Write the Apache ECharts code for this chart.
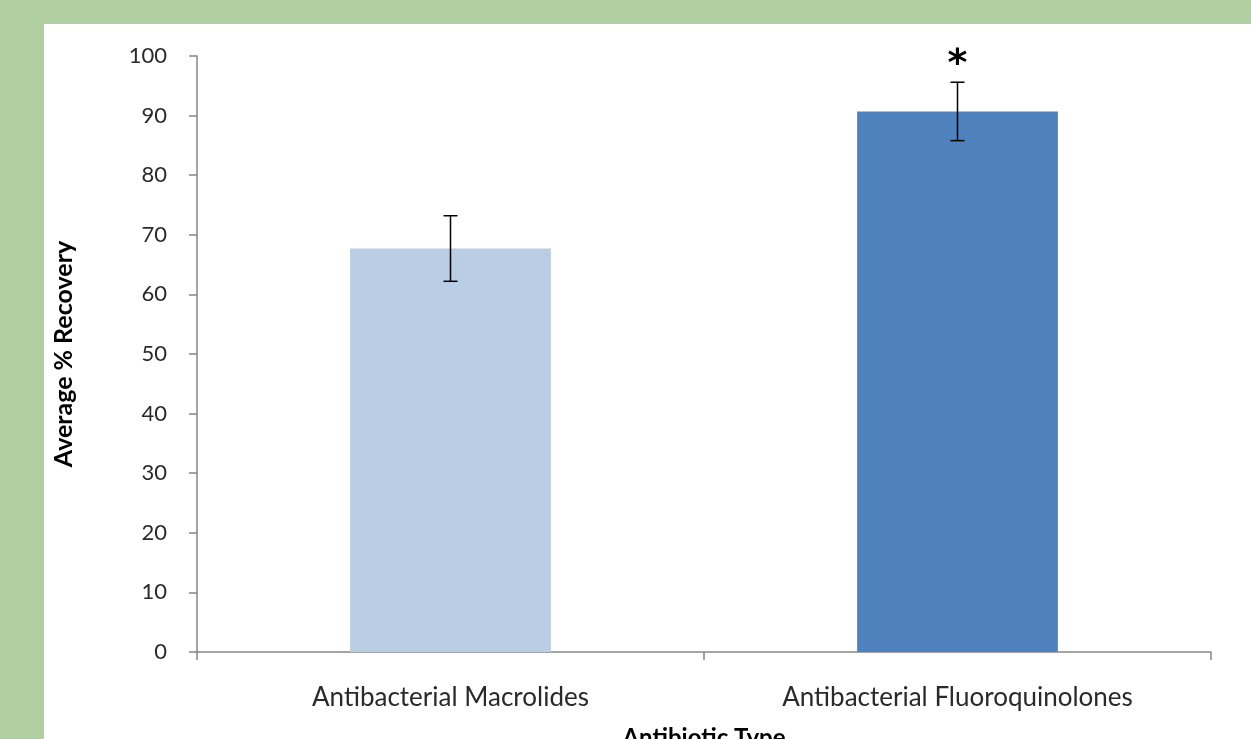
<!DOCTYPE html>
<html><head><meta charset="utf-8">
<script src="https://cdn.jsdelivr.net/npm/echarts@6/dist/echarts.min.js"></script>
<style>
html,body{margin:0;padding:0;background:#b0cfa0;width:1251px;height:739px;overflow:hidden;}
#c{position:absolute;left:44px;top:24px;width:1207px;height:715px;background:#fff;}
</style></head><body>
<div id="c"></div>
<script>
const categories = ['Antibacterial Macrolides', 'Antibacterial Fluoroquinolones'];
const meanRecovery = [67.7, 90.7];
const errorAmount = [5.5, 4.9];
const significance = ['', '*'];
const barColors = ['#b9cde5', '#4f81bd'];
const yTicks = [0, 10, 20, 30, 40, 50, 60, 70, 80, 90, 100];

const chart = echarts.init(document.getElementById('c'));
const font = 'Lato, "Open Sans", sans-serif';
chart.setOption({
  animation: false,
  grid: {left: 153, right: 40, top: 32, bottom: 87, containLabel: false, outerBoundsMode: 'none'},
  xAxis: {
    type: 'category', data: categories,
    name: 'Antibiotic Type', nameLocation: 'middle', nameGap: 74,
    nameTextStyle: {fontFamily: font, fontWeight: 'bold', fontSize: 24, color: '#000'},
    axisLine: {lineStyle: {color: '#868686', width: 1.5}},
    axisTick: {show: true, length: 8, lineStyle: {color: '#868686', width: 1.5}},
    axisLabel: {fontFamily: font, fontSize: 26, color: '#2a2a2a', margin: 33}
  },
  yAxis: {
    type: 'value', min: yTicks[0], max: yTicks[yTicks.length - 1], interval: 10,
    name: 'Average % Recovery', nameLocation: 'middle', nameGap: 121, nameRotate: 90,
    nameTextStyle: {fontFamily: font, fontWeight: 'bold', fontSize: 25, color: '#000'},
    axisLine: {show: true, lineStyle: {color: '#868686', width: 1.5}},
    axisTick: {show: true, length: 8, lineStyle: {color: '#868686', width: 1.5}},
    splitLine: {show: false},
    axisLabel: {fontFamily: font, fontSize: 22, color: '#2a2a2a', margin: 30}
  },
  series: [
    {
      type: 'bar', barWidth: '39.6%',
      data: meanRecovery.map((v, i) => ({value: v, itemStyle: {color: barColors[i]}}))
    },
    {
      type: 'custom',
      data: meanRecovery.map((v, i) => [i, v - errorAmount[i], v + errorAmount[i]]),
      renderItem: function (params, api) {
        const lo = api.coord([api.value(0), api.value(1)]);
        const hi = api.coord([api.value(0), api.value(2)]);
        const hw = 7;
        const st = {stroke: '#000', lineWidth: 1.5};
        const children = [
          {type: 'line', shape: {x1: hi[0], y1: hi[1], x2: lo[0], y2: lo[1]}, style: st},
          {type: 'line', shape: {x1: hi[0] - hw, y1: hi[1], x2: hi[0] + hw, y2: hi[1]}, style: st},
          {type: 'line', shape: {x1: lo[0] - hw, y1: lo[1], x2: lo[0] + hw, y2: lo[1]}, style: st}
        ];
        const s = significance[params.dataIndex];
        if (s) {
          children.push({type: 'text', x: hi[0], y: hi[1] + 2,
            style: {text: s, fontFamily: 'DejaVu Sans, sans-serif', fontSize: 38, fontWeight: 'bold',
              fill: '#000', align: 'center', verticalAlign: 'bottom'}});
        }
        return {type: 'group', children: children};
      },
      z: 10
    }
  ]
});
</script>
</body></html>
